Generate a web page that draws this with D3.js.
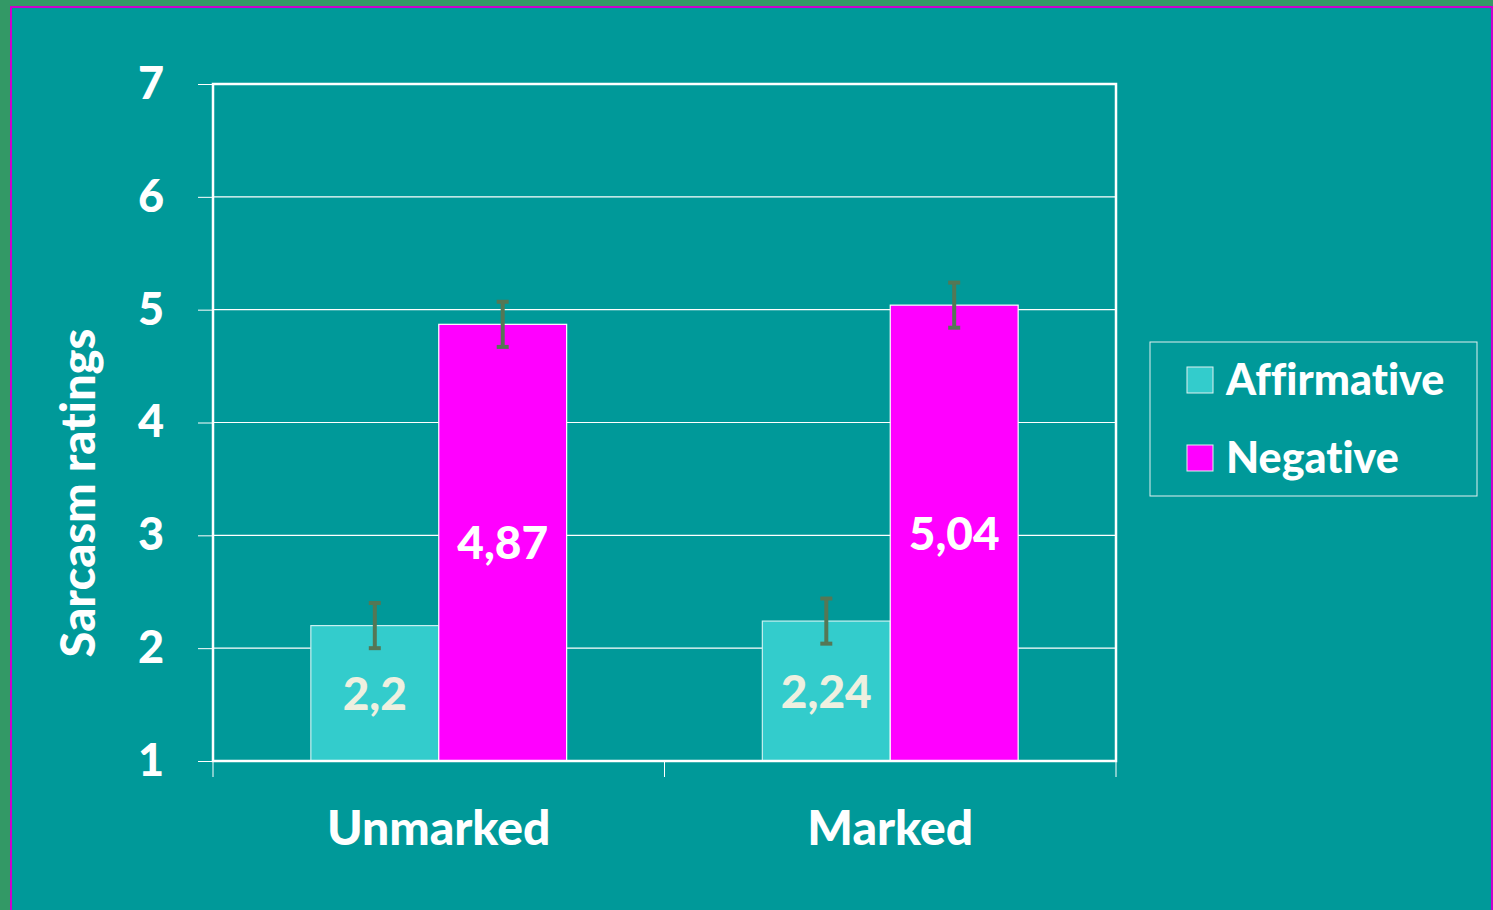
<!DOCTYPE html>
<html>
<head>
<meta charset="utf-8">
<script src="https://cdn.jsdelivr.net/npm/d3@7"></script>
<style>
  html, body { margin: 0; padding: 0; background: #339966; }
  svg { display: block; }
  text { font-variant-ligatures: none; }
</style>
</head>
<body>
<script>
// data
const categories = ["Unmarked", "Marked"];
const seriesNames = ["Affirmative", "Negative"];
const affirmative = [2.2, 2.24];
const negative = [4.87, 5.04];
const errAffirmative = [0.2, 0.2];
const errNegative = [0.2, 0.2];
const valueLabels = [["2,2", "2,24"], ["4,87", "5,04"]];
const yTicks = [1, 2, 3, 4, 5, 6, 7];

const W = 1493, H = 910;
const plot = {left: 213, right: 1116, top: 84, bottom: 761};
const colors = {Affirmative: "#33CCCC", Negative: "#FF00FF"};
const font = "Lato, 'Open Sans', sans-serif";

const svg = d3.select("body").append("svg")
    .attr("width", W)
    .attr("height", H);

// slide background with magenta frame
svg.append("rect").attr("x", 0).attr("y", 0).attr("width", W).attr("height", H).attr("fill", "#339966");
svg.append("rect").attr("x", 11).attr("y", 7).attr("width", W - 12).attr("height", H)
    .attr("fill", "#009999").attr("stroke", "#CC00CC").attr("stroke-width", 2);

const x0 = d3.scaleBand().domain(categories).range([plot.left, plot.right]).paddingInner(0).paddingOuter(0);
const x1 = d3.scaleBand().domain(seriesNames).range([0, x0.bandwidth()]).paddingInner(0).paddingOuter(0.765);
const y = d3.scaleLinear().domain([1, 7]).range([plot.bottom, plot.top]);

// gridlines
svg.append("g").selectAll("line")
    .data(yTicks.filter(d => d > 1 && d < 7))
    .join("line")
    .attr("x1", plot.left).attr("x2", plot.right)
    .attr("y1", d => y(d)).attr("y2", d => y(d))
    .attr("stroke", "#ffffff").attr("stroke-width", 1.2);

// y axis ticks and labels
const yAxis = svg.append("g").attr("transform", `translate(${plot.left},0)`)
    .call(d3.axisLeft(y).tickValues(yTicks).tickSize(15).tickPadding(34).tickFormat(d3.format("d")));
yAxis.select(".domain").remove();
yAxis.selectAll("line").attr("stroke", "#ffffff").attr("stroke-width", 1);
yAxis.selectAll("text").attr("fill", "#ffffff").attr("font-family", font)
    .attr("font-weight", 900).attr("font-size", 45);

// x axis tick marks at category boundaries
svg.append("g").selectAll("line")
    .data([plot.left, plot.left + x0.bandwidth(), plot.right])
    .join("line")
    .attr("x1", d => d).attr("x2", d => d)
    .attr("y1", plot.bottom).attr("y2", plot.bottom + 16)
    .attr("stroke", "#ffffff").attr("stroke-width", 1);

// bars
const rows = [];
categories.forEach((c, i) => {
    rows.push({cat: c, s: "Affirmative", v: affirmative[i], e: errAffirmative[i], label: valueLabels[0][i]});
    rows.push({cat: c, s: "Negative", v: negative[i], e: errNegative[i], label: valueLabels[1][i]});
});

svg.append("g").selectAll("rect")
    .data(rows)
    .join("rect")
    .attr("x", d => x0(d.cat) + x1(d.s))
    .attr("y", d => y(d.v))
    .attr("width", x1.bandwidth())
    .attr("height", d => y(1) - y(d.v))
    .attr("fill", d => colors[d.s])
    .attr("stroke", d => d.s == "Affirmative" ? "#c8f0f0" : "#ffffff")
    .attr("stroke-width", 1.2);

// plot border
svg.append("rect")
    .attr("x", plot.left).attr("y", plot.top)
    .attr("width", plot.right - plot.left).attr("height", plot.bottom - plot.top)
    .attr("fill", "none").attr("stroke", "#ffffff").attr("stroke-width", 2.5);

// error bars
const eb = svg.append("g").attr("stroke", "#557755").attr("stroke-width", 4);
rows.forEach(d => {
    const cx = x0(d.cat) + x1(d.s) + x1.bandwidth() / 2;
    eb.append("line").attr("x1", cx).attr("x2", cx).attr("y1", y(d.v + d.e)).attr("y2", y(d.v - d.e));
    eb.append("line").attr("x1", cx - 6).attr("x2", cx + 6).attr("y1", y(d.v + d.e)).attr("y2", y(d.v + d.e));
    eb.append("line").attr("x1", cx - 6).attr("x2", cx + 6).attr("y1", y(d.v - d.e)).attr("y2", y(d.v - d.e));
});

// value labels in the middle of each bar
svg.append("g").selectAll("text")
    .data(rows)
    .join("text")
    .attr("x", d => x0(d.cat) + x1(d.s) + x1.bandwidth() / 2)
    .attr("y", d => (y(d.v) + y(1)) / 2)
    .attr("dy", "0.36em")
    .attr("text-anchor", "middle")
    .attr("font-family", font).attr("font-weight", 900).attr("font-size", 46)
    .attr("fill", d => d.s == "Affirmative" ? "#EEF0E0" : "#ffffff")
    .text(d => d.label);

// category labels
svg.append("g").selectAll("text")
    .data(categories)
    .join("text")
    .attr("x", d => x0(d) + x0.bandwidth() / 2)
    .attr("y", 845)
    .attr("text-anchor", "middle")
    .attr("font-family", font).attr("font-weight", 900).attr("font-size", 48)
    .attr("fill", "#ffffff")
    .text(d => d);

// y axis title
svg.append("text")
    .attr("transform", "translate(95,493) rotate(-90)")
    .attr("text-anchor", "middle")
    .attr("font-family", font).attr("font-weight", 900).attr("font-size", 47)
    .attr("fill", "#ffffff")
    .text("Sarcasm ratings");

// legend
const lg = svg.append("g");
lg.append("rect").attr("x", 1150).attr("y", 342).attr("width", 327).attr("height", 154)
    .attr("fill", "none").attr("stroke", "#e0f0f0").attr("stroke-width", 1);
seriesNames.forEach((s, i) => {
    lg.append("rect").attr("x", 1187).attr("y", 367 + i * 78).attr("width", 26).attr("height", 26)
        .attr("fill", colors[s]).attr("stroke", "#e0f0f0").attr("stroke-width", 1);
    lg.append("text").attr("x", 1226).attr("y", 395 + i * 78)
        .attr("font-family", font).attr("font-weight", 900).attr("font-size", 43)
        .attr("fill", "#ffffff").text(s);
});
</script>
</body>
</html>
